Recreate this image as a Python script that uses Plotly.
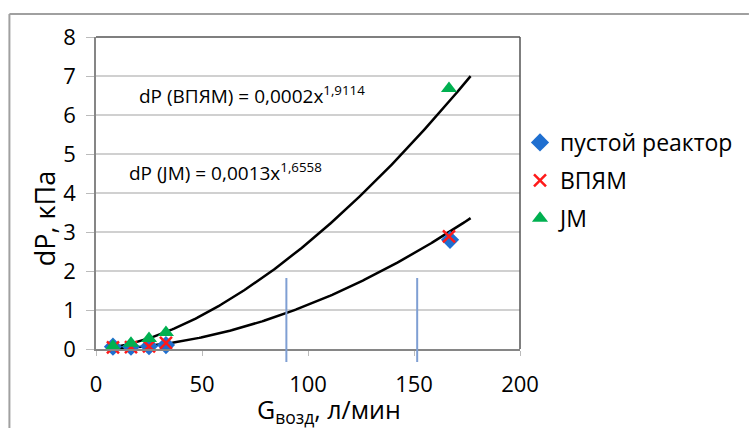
import numpy as np
import plotly.graph_objects as go

# ---- data ----
x_empty = [8, 16.5, 25, 33, 167]
y_empty = [0.06, 0.06, 0.07, 0.10, 2.80]
x_vpyam = [8, 16.5, 25, 33, 166.5]
y_vpyam = [0.04, 0.05, 0.07, 0.16, 2.89]
x_jm = [8, 16.5, 25, 33, 166.5]
y_jm = [0.07, 0.15, 0.27, 0.42, 6.68]

series_names = ["пустой реактор", "ВПЯМ", "JM"]

# power trendlines y = a * x^b (as drawn in the picture)
trend_upper_a, trend_upper_b = 0.00133, 1.6558
trend_lower_a, trend_lower_b = 0.00017, 1.9114
trend_x_start, trend_x_end = 8, 176.7

vlines_x = [89.8, 151.5]

eq_upper = "dP (ВПЯМ) = 0,0002x<sup>1,9114</sup>"
eq_lower = "dP (JM) = 0,0013x<sup>1,6558</sup>"

x_ticks = [0, 50, 100, 150, 200]
y_ticks = [0, 1, 2, 3, 4, 5, 6, 7, 8]

FONT = "Open Sans, Noto Sans, DejaVu Sans, sans-serif"

fig = go.Figure()

tx = np.linspace(trend_x_start, trend_x_end, 200)
fig.add_trace(go.Scatter(x=tx, y=trend_upper_a * tx ** trend_upper_b, mode="lines",
                         line=dict(color="black", width=2.5), showlegend=False, hoverinfo="skip"))
fig.add_trace(go.Scatter(x=tx, y=trend_lower_a * tx ** trend_lower_b, mode="lines",
                         line=dict(color="black", width=2.5), showlegend=False, hoverinfo="skip"))

fig.add_trace(go.Scatter(x=x_empty, y=y_empty, mode="markers", name=series_names[0],
                         legendgroup="a",
                         marker=dict(symbol="diamond", size=14, color="#1F6FD0"), cliponaxis=False))
fig.add_trace(go.Scatter(x=x_vpyam, y=y_vpyam, mode="markers", name=series_names[1],
                         legendgroup="b",
                         marker=dict(symbol="x-thin", size=12, line=dict(color="#FF1A1A", width=2.5)),
                         cliponaxis=False))
fig.add_trace(go.Scatter(x=x_jm, y=y_jm, mode="markers", name=series_names[2],
                         legendgroup="c",
                         marker=dict(symbol="triangle-up", size=14, color="#00B050"), cliponaxis=False))

L, R, T, B = 96, 522, 37, 349
W, H = 750, 428
pw, ph = R - L, B - T

def px(xp):
    return (xp - L) / pw

def py(yp):
    return (B - yp) / ph

shapes = []
for vx in vlines_x:
    shapes.append(dict(type="line", xref="x", yref="paper", x0=vx, x1=vx,
                       y0=py(362), y1=py(278), line=dict(color="#7F9FD3", width=2)))
# plot area top / right border
shapes.append(dict(type="line", xref="paper", yref="paper", x0=0, x1=1, y0=1, y1=1,
                   line=dict(color="#555555", width=1.5)))
shapes.append(dict(type="line", xref="paper", yref="paper", x0=1, x1=1, y0=0, y1=1,
                   line=dict(color="#555555", width=1.5)))
# outer chart border
shapes.append(dict(type="line", xref="paper", yref="paper", x0=px(9), x1=px(752), y0=py(14), y1=py(14),
                   line=dict(color="#A0A0A0", width=2)))
shapes.append(dict(type="line", xref="paper", yref="paper", x0=px(9), x1=px(9), y0=py(14), y1=py(430),
                   line=dict(color="#A0A0A0", width=2)))

annotations = [
    dict(text=eq_upper, xref="paper", yref="paper", x=px(137), y=py(95), xanchor="left", yanchor="middle",
         showarrow=False, font=dict(family=FONT, size=19, color="black")),
    dict(text=eq_lower, xref="paper", yref="paper", x=px(127), y=py(172), xanchor="left", yanchor="middle",
         showarrow=False, font=dict(family=FONT, size=19, color="black")),
    dict(text="dP, кПа", xref="paper", yref="paper", x=px(45), y=py(219), xanchor="center", yanchor="middle",
         textangle=-90, showarrow=False, font=dict(family=FONT, size=27, color="black")),
    dict(text="G<sub>возд</sub>, л/мин", xref="paper", yref="paper", x=px(330), y=py(410),
         xanchor="center", yanchor="middle", showarrow=False, font=dict(family=FONT, size=25, color="black")),
]

fig.update_layout(
    width=W, height=H,
    margin=dict(l=L, r=W - R, t=T, b=H - B, pad=0),
    paper_bgcolor="white", plot_bgcolor="white",
    font=dict(family=FONT, color="black"),
    shapes=shapes, annotations=annotations,
    legend=dict(x=px(522), y=py(121), xanchor="left", yanchor="top",
                font=dict(family=FONT, size=23, color="black"),
                traceorder="grouped", tracegroupgap=5, bgcolor="rgba(0,0,0,0)"),
    xaxis=dict(range=[0, 200], tickvals=x_ticks, showgrid=False, zeroline=False,
               showline=True, linecolor="#868686", linewidth=1.5,
               ticks="outside", ticklen=5, tickcolor="#BBBBBB", tickwidth=1,
               tickfont=dict(family=FONT, size=22, color="black"), ticklabelstandoff=10),
    yaxis=dict(range=[0, 8], tickvals=y_ticks, showgrid=True, gridcolor="#D0D0D0", gridwidth=1.5,
               zeroline=False, showline=True, linecolor="#868686", linewidth=1.5,
               ticks="outside", ticklen=8, tickcolor="#BBBBBB", tickwidth=1,
               tickfont=dict(family=FONT, size=22, color="black"), ticklabelstandoff=6),
)

fig.write_html("out.html")
